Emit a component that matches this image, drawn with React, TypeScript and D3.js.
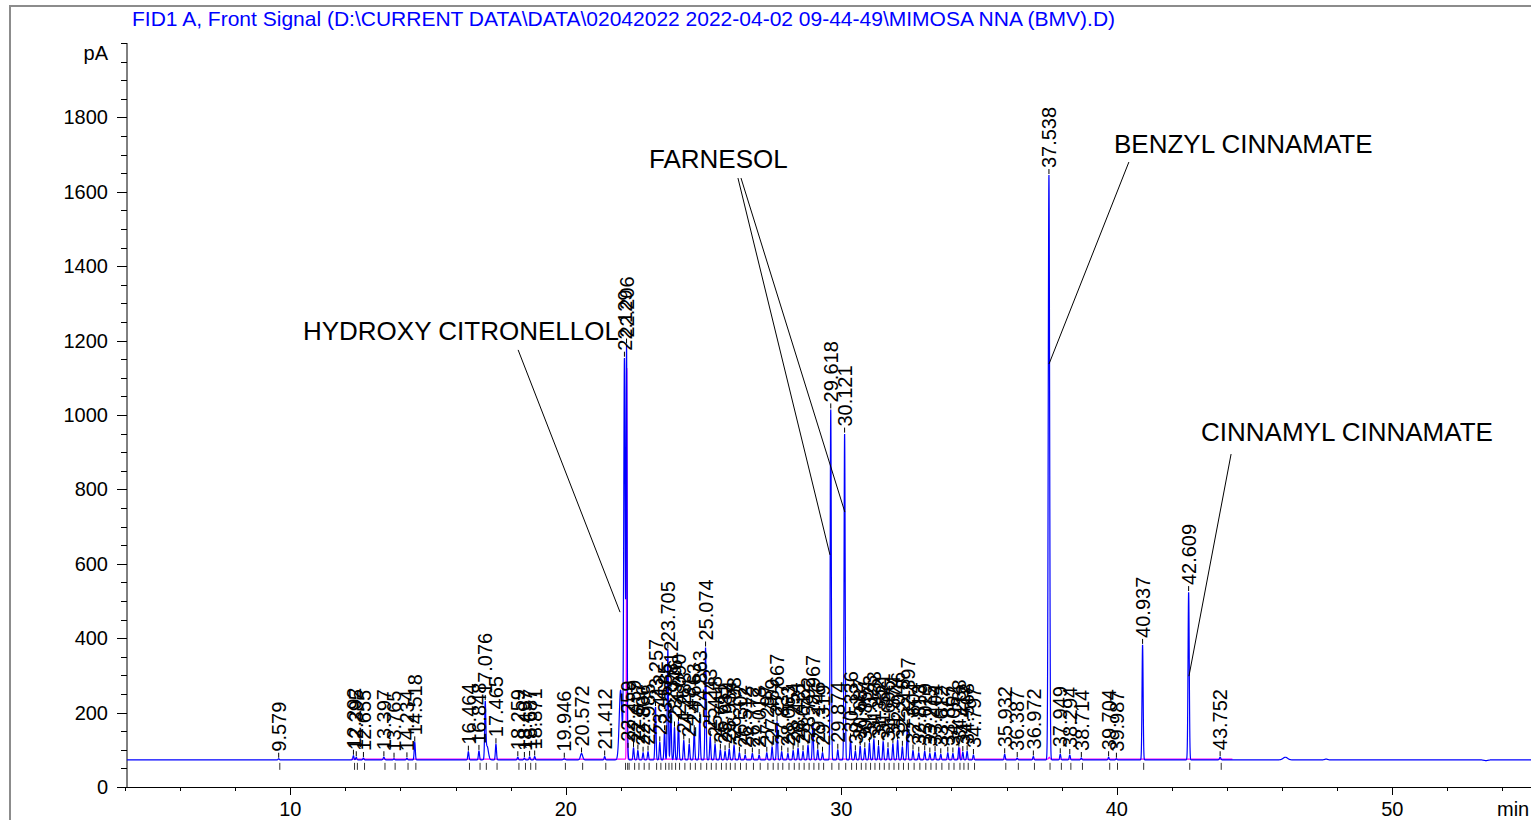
import React, { useEffect, useRef } from 'react';
import * as d3 from 'd3';

// chromatogram signal title
const title = 'FID1 A, Front Signal (D:\\CURRENT DATA\\DATA\\02042022 2022-04-02 09-44-49\\MIMOSA NNA (BMV).D)';

// axis ticks
const xMajorTicks = [10, 20, 30, 40, 50];
const yMajorTicks = [0, 200, 400, 600, 800, 1000, 1200, 1400, 1600, 1800];

const baselinePA = 73;

// labelled peaks: [retention time (min), apex (pA), sigma (min)]
const peaks: [number, number, number][] = [
  [9.579, 76, 0.02],
  [12.292, 84, 0.02], [12.395, 80, 0.02], [12.655, 78, 0.02],
  [13.397, 80, 0.025], [13.765, 76, 0.02], [14.234, 77, 0.02], [14.518, 120, 0.02],
  [16.464, 95, 0.02], [16.848, 97, 0.02], [17.076, 215, 0.02], [17.465, 115, 0.02],
  [18.259, 80, 0.02], [18.497, 78, 0.02], [18.687, 81, 0.02], [18.871, 82, 0.02],
  [19.946, 76, 0.03], [20.572, 90, 0.04], [21.412, 82, 0.02],
  [22.129, 1150, 0.025], [22.206, 1180, 0.018], [22.259, 88, 0.015], [22.459, 105, 0.02],
  [22.617, 98, 0.02], [22.806, 92, 0.02], [22.985, 95, 0.02], [23.257, 215, 0.02],
  [23.412, 120, 0.02], [23.585, 150, 0.02], [23.705, 370, 0.02], [23.812, 210, 0.02],
  [23.946, 160, 0.02], [24.090, 175, 0.02], [24.283, 125, 0.02], [24.481, 115, 0.02],
  [24.663, 150, 0.02], [24.863, 185, 0.02], [25.074, 375, 0.02], [25.243, 135, 0.02],
  [25.418, 115, 0.02], [25.611, 100, 0.02], [25.782, 96, 0.02], [25.934, 102, 0.02],
  [26.108, 112, 0.02], [26.302, 92, 0.02], [26.512, 86, 0.02], [26.772, 90, 0.02],
  [27.018, 86, 0.02], [27.297, 92, 0.02], [27.489, 108, 0.02], [27.667, 175, 0.02],
  [27.837, 95, 0.02], [28.063, 90, 0.02], [28.254, 98, 0.02], [28.431, 104, 0.02],
  [28.612, 96, 0.02], [28.792, 112, 0.02], [28.967, 172, 0.02], [29.146, 100, 0.02],
  [29.319, 92, 0.02], [29.618, 1015, 0.02], [29.874, 100, 0.02], [30.121, 950, 0.02],
  [30.336, 128, 0.02], [30.512, 96, 0.02], [30.687, 110, 0.02], [30.854, 104, 0.02],
  [31.023, 118, 0.02], [31.183, 128, 0.02], [31.352, 110, 0.02], [31.521, 122, 0.02],
  [31.696, 104, 0.02], [31.874, 116, 0.02], [32.046, 126, 0.02], [32.218, 108, 0.02],
  [32.397, 165, 0.02], [32.604, 98, 0.02], [32.813, 92, 0.02], [33.029, 96, 0.02],
  [33.215, 90, 0.02], [33.404, 94, 0.02], [33.612, 88, 0.02], [33.867, 92, 0.02],
  [34.052, 90, 0.02], [34.268, 106, 0.02], [34.412, 94, 0.02], [34.568, 96, 0.02],
  [34.797, 86, 0.02],
  [35.932, 88, 0.02], [36.387, 78, 0.02], [36.972, 82, 0.02],
  [37.538, 1645, 0.025], [37.949, 88, 0.02], [38.294, 86, 0.02], [38.714, 78, 0.02],
  [39.704, 80, 0.02], [39.987, 76, 0.02], [40.937, 382, 0.02], [42.609, 524, 0.022],
  [43.752, 80, 0.025],
];

// unlabelled shoulders and bumps: [time, apex, sigma]
const bumps: [number, number, number][] = [
  [17.14, 110, 0.05], [21.99, 260, 0.05], [46.12, 80, 0.08], [47.6, 75, 0.05], [53.4, 71, 0.08],
];

// magenta integration trace spikes: [time, apex, sigma]
const baselineSpikes: [number, number, number][] = [
  [22.215, 1130, 0.012], [34.3, 104, 0.015], [37.55, 80, 0.02],
];

// compound annotations: text anchor and leader lines, in data units (min, pA)
const annotationNames = ['HYDROXY CITRONELLOL', 'FARNESOL', 'BENZYL CINNAMATE', 'CINNAMYL CINNAMATE'];
const annotationAnchors: [number, number][] = [[10.46, 1201], [23.02, 1664], [39.9, 1704], [43.06, 930]];
const annotationLeaders: [number, number, number, number][][] = [
  [[18.27, 1175, 21.97, 470]],
  [[26.25, 1637, 29.59, 624], [26.36, 1637, 30.13, 739]],
  [[40.44, 1680, 37.54, 1137]],
  [[44.15, 895, 42.62, 298]],
];

const FONT = '"Liberation Sans", Arial, sans-serif';

const App = () => {
  const svgRef = useRef<SVGSVGElement>(null);

  useEffect(() => {
    if (!svgRef.current) return;
    const svg = d3.select(svgRef.current);
    svg.selectAll('*').remove();

    const x = d3.scaleLinear().domain([4, 55]).range([125, 1530]);
    const y = d3.scaleLinear().domain([0, 2000]).range([787, 43]);

    const sumPeaks = (t: number, list: [number, number, number][], base: number) => {
      let v = base;
      for (const [rt, h, s] of list) {
        const d = t - rt;
        if (Math.abs(d) > 8 * s) continue;
        v += (h - base) * Math.exp(-(d * d) / (2 * s * s));
      }
      return v;
    };
    const signal = (t: number) => sumPeaks(t, peaks, baselinePA) + sumPeaks(t, bumps, baselinePA) - baselinePA;

    const times = d3.range(4.07, 55.05, 0.003);

    // frame
    svg.append('path')
      .attr('d', 'M10,820 L10,6 L1531,6')
      .attr('fill', 'none').attr('stroke', '#8c8c8c').attr('stroke-width', 2);

    // title
    svg.append('text')
      .attr('x', 132).attr('y', 26)
      .attr('font-family', FONT).attr('font-size', 21)
      .attr('fill', '#0000ff')
      .text(title);

    // axes
    const g = svg.append('g').attr('stroke', '#000').attr('stroke-width', 1);
    g.append('line').attr('x1', 127).attr('x2', 127).attr('y1', 43).attr('y2', 787.5);
    g.append('line').attr('x1', 127).attr('x2', 1531).attr('y1', 787.5).attr('y2', 787.5);

    d3.range(0, 2001, 50).forEach(v => {
      const major = yMajorTicks.includes(v);
      g.append('line')
        .attr('x1', 127).attr('x2', major ? 117 : 121)
        .attr('y1', Math.round(y(v)) + 0.5).attr('y2', Math.round(y(v)) + 0.5);
    });
    d3.range(4, 55.1, 2).forEach(v => {
      const major = xMajorTicks.includes(v);
      g.append('line')
        .attr('x1', Math.round(x(v)) + 0.5).attr('x2', Math.round(x(v)) + 0.5)
        .attr('y1', 787).attr('y2', major ? 795 : 791);
    });

    svg.selectAll('.ylab')
      .data(yMajorTicks)
      .enter()
      .append('text')
      .attr('x', 108).attr('y', d => y(d) + 7)
      .attr('text-anchor', 'end')
      .attr('font-family', FONT).attr('font-size', 20)
      .text(d => d);
    svg.append('text')
      .attr('x', 108).attr('y', 60)
      .attr('text-anchor', 'end')
      .attr('font-family', FONT).attr('font-size', 20)
      .text('pA');

    svg.selectAll('.xlab')
      .data(xMajorTicks)
      .enter()
      .append('text')
      .attr('x', d => x(d)).attr('y', 816)
      .attr('text-anchor', 'middle')
      .attr('font-family', FONT).attr('font-size', 20)
      .text(d => d);
    svg.append('text')
      .attr('x', 1497).attr('y', 816)
      .attr('font-family', FONT).attr('font-size', 20)
      .text('min');

    // integration ticks under baseline
    svg.selectAll('.itick')
      .data(peaks)
      .enter()
      .append('line')
      .attr('x1', d => x(d[0] + 0.04)).attr('x2', d => x(d[0] + 0.04))
      .attr('y1', y(baselinePA) + 3).attr('y2', y(baselinePA) + 10)
      .attr('stroke', '#333').attr('stroke-width', 1);

    // magenta baseline trace
    const mTimes = d3.range(12.2, 44.2, 0.003);
    const mLine = d3.line<number>()
      .x(t => x(t))
      .y(t => y(sumPeaks(t, baselineSpikes, baselinePA + 2)));
    svg.append('path')
      .datum(mTimes)
      .attr('d', mLine)
      .attr('fill', 'none').attr('stroke', '#ff00ff').attr('stroke-width', 1.2);

    // blue signal
    const line = d3.line<number>()
      .x(t => x(t))
      .y(t => y(signal(t)));
    svg.append('path')
      .datum(times)
      .attr('d', line)
      .attr('fill', 'none').attr('stroke', '#0000ff').attr('stroke-width', 1.2);

    // retention time labels
    const lab = svg.append('g');
    peaks.forEach(([rt]) => {
      const top = y(signal(rt));
      lab.append('line')
        .attr('x1', x(rt)).attr('x2', x(rt))
        .attr('y1', top - 1).attr('y2', top - 6)
        .attr('stroke', '#000').attr('stroke-width', 1);
      lab.append('text')
        .attr('transform', `translate(${x(rt)},${top - 7}) rotate(-90)`)
        .attr('dy', '0.36em')
        .attr('font-family', FONT).attr('font-size', 20)
        .attr('fill', '#000')
        .text(rt.toFixed(3));
    });

    // compound annotations
    annotationNames.forEach((name, i) => {
      const [ax, ay] = annotationAnchors[i];
      svg.append('text')
        .attr('x', x(ax)).attr('y', y(ay))
        .attr('font-family', FONT).attr('font-size', 26)
        .text(name);
      annotationLeaders[i].forEach(([x1, y1, x2, y2]) => {
        svg.append('line')
          .attr('x1', x(x1)).attr('y1', y(y1))
          .attr('x2', x(x2)).attr('y2', y(y2))
          .attr('stroke', '#000').attr('stroke-width', 1);
      });
    });
  }, []);

  return (
    <svg
      ref={svgRef}
      width={1531}
      height={820}
      style={{ position: 'absolute', left: 0, top: 0, background: '#fff' }}
    />
  );
};

export default App;
